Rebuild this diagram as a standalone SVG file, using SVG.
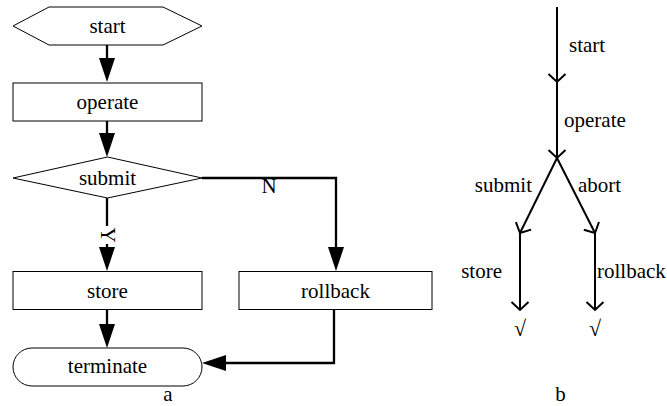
<svg xmlns="http://www.w3.org/2000/svg" width="667" height="406" viewBox="0 0 667 406">
  <style>
    .node { fill: #ffffff; stroke: #000000; stroke-width: 1; }
    text { font-family: 'Liberation Serif', 'DejaVu Serif', 'Times New Roman', serif; font-size: 21px; fill: #000000; }
    .c { text-anchor: middle; }
    .e { text-anchor: end; }
    .chk { font-size: 22px; font-weight: bold; }
    .conn { fill: none; stroke: #000000; stroke-width: 2.3; }
    .flow { fill: none; stroke: #000000; stroke-width: 2; }
  </style>
  <defs>
    <marker id="solid" markerUnits="userSpaceOnUse" viewBox="0 0 24 16" refX="14" refY="8" markerWidth="24" markerHeight="16" orient="auto">
      <path d="M0,0 L24,8 L0,16 z" fill="#000000"/>
    </marker>
    <marker id="open" markerUnits="userSpaceOnUse" viewBox="-10 -10 12 20" refX="0" refY="0" markerWidth="12" markerHeight="20" orient="auto" overflow="visible">
      <path d="M-8,-8.5 L0,0 L-8,8.5" fill="none" stroke="#000000" stroke-width="2"/>
    </marker>
  </defs>
  <rect width="667" height="406" fill="#ffffff"/>

  <!-- diagram a: connectors -->
  <g id="connectors-a">
    <path class="conn" d="M107,45 V72" marker-end="url(#solid)"/>
    <path class="conn" d="M107,121 V147" marker-end="url(#solid)"/>
    <path class="conn" d="M107,198 V226 M107,244 V261" marker-end="url(#solid)"/>
    <path class="conn" d="M202,178 H336 V261" marker-end="url(#solid)"/>
    <path class="conn" d="M107,310 V338" marker-end="url(#solid)"/>
    <path class="conn" d="M334,309.5 V363 H212" marker-end="url(#solid)"/>
    <text class="c" x="269" y="193">N</text>
    <text class="c" transform="translate(101,235) rotate(90)">Y</text>
  </g>

  <!-- diagram a: nodes -->
  <g id="start">
    <polygon class="node" points="13,26 49,7 163,7 202,26 163,45 49,45"/>
    <text class="c" x="107.5" y="33">start</text>
  </g>
  <g id="operate">
    <rect class="node" x="13" y="83" width="189" height="38"/>
    <text class="c" x="107.5" y="109">operate</text>
  </g>
  <g id="submit">
    <polygon class="node" points="13,178 107.5,157 202,178 107.5,198"/>
    <text class="c" x="107.5" y="185">submit</text>
  </g>
  <g id="store">
    <rect class="node" x="13" y="271.5" width="189" height="38"/>
    <text class="c" x="107.5" y="298">store</text>
  </g>
  <g id="rollback">
    <rect class="node" x="239" y="271.5" width="193" height="38"/>
    <text class="c" x="335.5" y="298">rollback</text>
  </g>
  <g id="terminate">
    <rect class="node" x="13" y="348" width="189" height="38" rx="19" ry="19"/>
    <text class="c" x="107.5" y="373">terminate</text>
  </g>
  <text class="c" x="168" y="401">a</text>

  <!-- diagram b -->
  <g id="connectors-b">
    <path class="flow" d="M557,7 V82" marker-end="url(#open)"/>
    <path class="flow" d="M557,82 V158" marker-end="url(#open)"/>
    <path class="flow" d="M557,158 L520,233" marker-end="url(#open)"/>
    <path class="flow" d="M557,158 L595,233" marker-end="url(#open)"/>
    <path class="flow" d="M520,233 V310" marker-end="url(#open)"/>
    <path class="flow" d="M595,233 V310" marker-end="url(#open)"/>
  </g>
  <g id="labels-b">
    <text x="569" y="52">start</text>
    <text x="564" y="127">operate</text>
    <text class="e" x="532" y="192">submit</text>
    <text x="578" y="192">abort</text>
    <text class="e" x="502" y="278">store</text>
    <text x="597" y="278">rollback</text>
    <text class="c chk" x="520" y="336">√</text>
    <text class="c chk" x="595" y="336">√</text>
    <text class="c" x="560.5" y="401">b</text>
  </g>
</svg>
